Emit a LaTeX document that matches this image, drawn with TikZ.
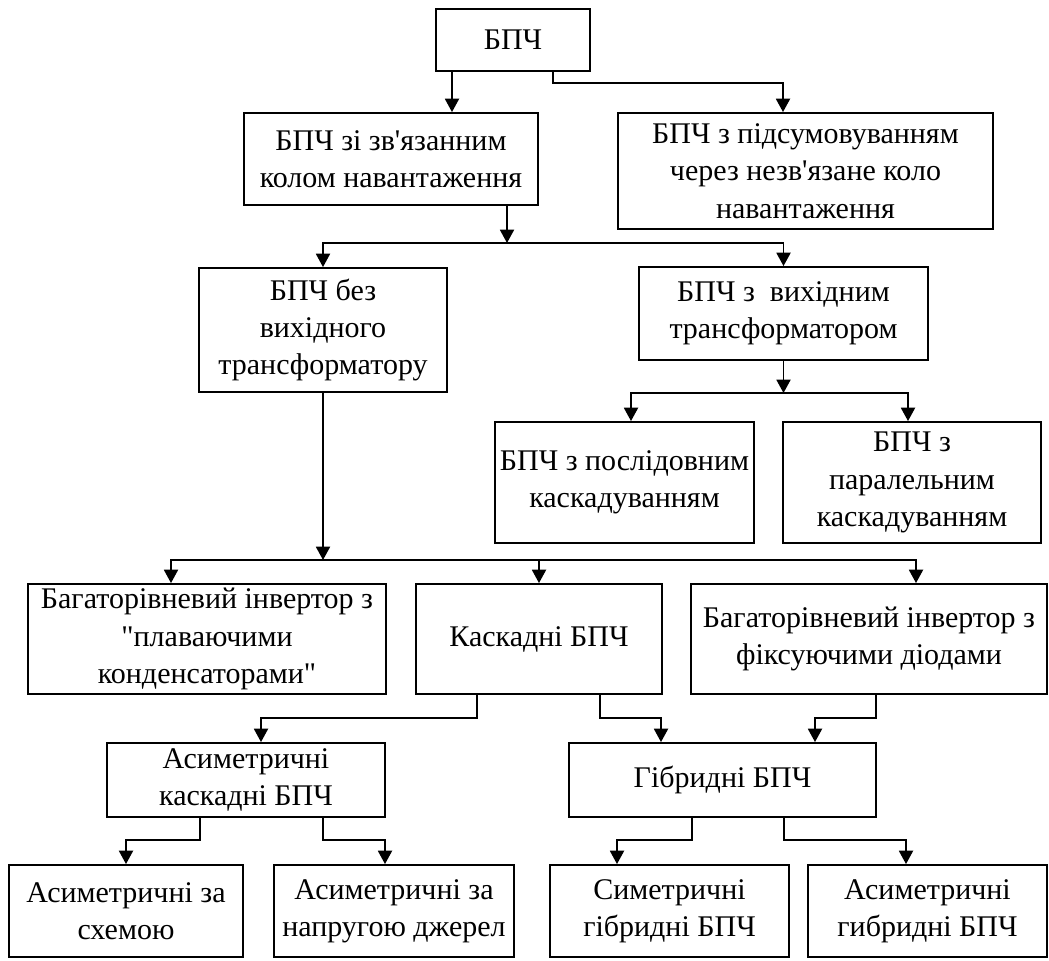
\documentclass[tikz,border=0pt]{standalone}
\usepackage{fontspec}
\newfontfamily\boxfont{Liberation Serif}
\usetikzlibrary{arrows.meta}

\begin{document}
\begin{tikzpicture}[x=0.75pt, y=-0.75pt,
	box/.style 2 args={draw, line width=1.4pt, minimum width=#1*0.75pt, minimum height=#2*0.75pt,
		inner sep=0pt, align=center, font=\boxfont\fontsize{22.5}{28}\selectfont},
	arr/.style={line width=1.4pt, -{Triangle[length=10pt,width=10.5pt]}}]

	\useasboundingbox (0,0) rectangle (1049,960);

	% Draw the boxes, top to bottom
	\node[box={154}{62}] (bpch) at (513,40) {БПЧ};
	\node[box={294}{92}] (coupled) at (391,159) {БПЧ зі зв'язанним\\колом навантаження};
	\node[box={375}{116}] (summing) at (805.5,171) {БПЧ з підсумовуванням\\через незв'язане коло\\навантаження};
	\node[box={248}{124}] (notrans) at (323,330) {БПЧ без\\вихідного\\трансформатору};
	\node[box={289}{93}] (trans) at (783.5,313.5) {БПЧ з\ \ вихідним\\трансформатором};
	\node[box={259}{121}] (serial) at (624.5,482.5) {БПЧ з послідовним\\каскадуванням};
	\node[box={258}{121}] (parallel) at (912,482.5) {БПЧ з\\паралельним\\каскадуванням};
	\node[box={358}{110}] (flying) at (207,639) {Багаторівневий інвертор з\\"плаваючими\\конденсаторами"};
	\node[box={246}{110}] (cascade) at (539,639) {Каскадні БПЧ};
	\node[box={356}{110}] (diode) at (869,639) {Багаторівневий інвертор з\\фіксуючими діодами};
	\node[box={278}{74}] (asym) at (246,780) {Асиметричні\\каскадні БПЧ};
	\node[box={307}{74}] (hybrid) at (722.5,780) {Гібридні БПЧ};
	\node[box={234}{92}] (asymscheme) at (126,911) {Асиметричні за\\схемою};
	\node[box={240}{92}] (asymvolt) at (394,911) {Асиметричні за\\напругою джерел};
	\node[box={239}{92}] (symhyb) at (669.5,911) {Симетричні\\гібридні БПЧ};
	\node[box={239}{92}] (asymhyb) at (927.5,911) {Асиметричні\\гибридні БПЧ};

	% Branch points
	\coordinate (j1) at (507,243);
	\coordinate (j2) at (783.5,393);
	\coordinate (j3) at (323,560);

	% From the top box
	\draw[arr] (bpch.south -| 452,0) -- (coupled.north -| 452,0);
	\draw[arr] (bpch.south -| 553,0) |- (783,83) -- (summing.north -| 783,0);

	% Second level
	\draw[arr] (coupled.south -| j1) -- (j1);
	\draw[arr] (j1) -| (notrans.north);
	\draw[arr] (j1) -| (trans.north);

	% Output transformer branch
	\draw[arr] (trans.south) -- (j2);
	\draw[arr] (j2) -| (serial.north -| 631,0);
	\draw[arr] (j2) -| (parallel.north -| 908,0);

	% Transformerless branch
	\draw[arr] (notrans.south) -- (j3);
	\draw[arr] (j3) -| (flying.north -| 171,0);
	\draw[arr] (j3) -| (cascade.north);
	\draw[arr] (j3) -| (diode.north -| 916,0);

	% Cascaded and hybrid
	\draw[arr] (cascade.south -| 477,0) |- (261,718) -- (asym.north -| 261,0);
	\draw[arr] (cascade.south -| 600,0) |- (661,718) -- (hybrid.north -| 661,0);
	\draw[arr] (diode.south -| 876,0) |- (815,718) -- (hybrid.north -| 815,0);

	% Bottom row
	\draw[arr] (asym.south -| 200,0) |- (126,840) -- (asymscheme.north);
	\draw[arr] (asym.south -| 323,0) |- (385,840) -- (asymvolt.north -| 385,0);
	\draw[arr] (hybrid.south -| 692,0) |- (617,840) -- (symhyb.north -| 617,0);
	\draw[arr] (hybrid.south -| 784,0) |- (906,840) -- (asymhyb.north -| 906,0);
\end{tikzpicture}
\end{document}
